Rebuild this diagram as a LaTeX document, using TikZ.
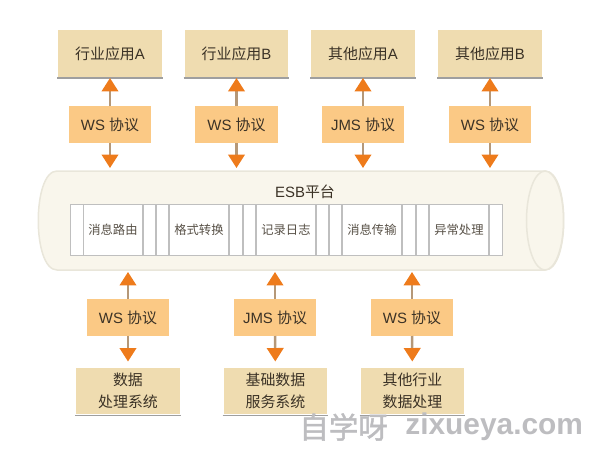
\documentclass[tikz,border=0pt]{standalone}
\usepackage{fontspec}
\setmainfont{Liberation Sans}
\newfontfamily\cjk{Noto Sans CJK SC}
\newfontfamily\cjkbold[FakeBold=1.5]{Noto Sans CJK SC}
\usepackage[HTML]{xcolor}
\usetikzlibrary{positioning, arrows.meta}

\definecolor{appfill}{HTML}{EFDCB0}
\definecolor{wsfill}{HTML}{FBC985}
\definecolor{tipfill}{HTML}{EE7B1B}
\definecolor{shaftcol}{HTML}{B59878}
\definecolor{busfill}{HTML}{F9F6EC}
\definecolor{busline}{HTML}{E9E6DA}
\definecolor{inktext}{HTML}{3B3226}
\definecolor{marktext}{HTML}{BDBDC0}

\tikzset{
  appbox/.style={draw=white, line width=0.04cm, fill=appfill, text=inktext, minimum width=2.12cm, minimum height=0.98cm,
    inner sep=0pt, outer sep=0pt, align=center, font=\fontsize{8.5}{12.5}\selectfont},
  wsbox/.style={fill=wsfill, text=inktext, minimum width=1.66cm, minimum height=0.74cm, inner sep=0pt, outer sep=0pt,
    font=\fontsize{8.5}{11}\selectfont},
  cellbox/.style={draw=gray!50, line width=0.02cm, fill=white, minimum width=1.2cm, minimum height=1.04cm, inner sep=0pt,
    text=inktext!85, font=\fontsize{7}{9}\selectfont},
  gapbox/.style={cellbox, minimum width=0.26cm},
  flowline/.style={draw=shaftcol, line width=0.05cm, -{Triangle[color=tipfill, width=0.33cm, length=0.27cm, sep=0pt]}},
  shadeline/.style={draw=gray!75, line width=0.035cm},
  busbody/.style={draw=busline, line width=0.03cm, fill=busfill},
}

\begin{document}
\begin{tikzpicture}[x=0.02cm, y=-0.02cm]
\useasboundingbox (0,0) rectangle (600,454);

% bus
\node[minimum width=10.5cm, minimum height=1.98cm, inner sep=0pt, outer sep=0pt] (esb) at (300.5,220.5) {};
\draw[busbody] (57,171) -- (545,171) .. controls (570,171) and (570,270) .. (545,270) -- (57,270)
  .. controls (32,270) and (32,171) .. (57,171) -- cycle;
\draw[busbody] (545,220.5) ellipse (18.5 and 49.5);
\node[text=inktext, font=\fontsize{8.5}{11}\selectfont] (esbtitle) at (305,192) {ESB{\cjk 平台}};

% table in the bus
\foreach \n/\x in {g1/77, g2/149.5, g3/162.5, g4/236, g5/249.5, g6/322.5, g7/335.5, g8/409, g9/422.5, g10/496}
  \node[gapbox] (\n) at (\x,230) {};
\node[cellbox] (route)  at (113,230) {\cjk 消息路由};
\node[cellbox] (format) at (199,230) {\cjk 格式转换};
\node[cellbox] (log)    at (286,230) {\cjk 记录日志};
\node[cellbox] (trans)  at (372,230) {\cjk 消息传输};
\node[cellbox] (error)  at (459,230) {\cjk 异常处理};

% top row
\node[appbox] (appA) at (110,53.5)  {{\cjk 行业应用}A};
\node[appbox] (appB) at (236.5,53.5) {{\cjk 行业应用}B};
\node[appbox] (othA) at (363,53.5)  {{\cjk 其他应用}A};
\node[appbox] (othB) at (490,53.5)  {{\cjk 其他应用}B};

\node[wsbox] (wsA) at (110,124.5) {WS {\cjk 协议}};
\node[wsbox] (wsB) at (236.5,124.5) {WS {\cjk 协议}};
\node[wsbox] (wsC) at (363,124.5) {JMS {\cjk 协议}};
\node[wsbox] (wsD) at (490,124.5) {WS {\cjk 协议}};

% bottom row
\node[wsbox] (wsE) at (128,317.5) {WS {\cjk 协议}};
\node[wsbox] (wsF) at (275,317.5) {JMS {\cjk 协议}};
\node[wsbox] (wsG) at (412,317.5) {WS {\cjk 协议}};

\node[appbox] (sysA) at (128,391) {\cjk 数据\\\cjk 处理系统};
\node[appbox] (sysB) at (275.5,391) {\cjk 基础数据\\\cjk 服务系统};
\node[appbox] (sysC) at (412.5,391) {\cjk 其他行业\\\cjk 数据处理};

% shadow under the boxes
\foreach \n in {appA, appB, othA, othB, sysA, sysB, sysC}
  \draw[shadeline] (\n.south west) -- (\n.south east);

% arrows
\foreach \w/\a in {wsA/appA, wsB/appB, wsC/othA, wsD/othB}
  \draw[flowline] (\w) -- (\a);
\foreach \w/\a in {wsE/sysA, wsF/sysB, wsG/sysC}
  \draw[flowline, shorten >=0.1cm] (\w) -- (\a);
\foreach \w in {wsA, wsB, wsC, wsD}
  \draw[flowline, shorten >=0.06cm] (\w) -- (\w |- esb.north);
\foreach \w in {wsE, wsF, wsG}
  \draw[flowline, shorten >=0.04cm] (\w) -- (\w |- esb.south);

% watermark
\node[text=marktext, anchor=west, inner sep=0pt, font=\fontsize{16.8}{20}\selectfont] (markcn) at (299,427) {\cjkbold 自学呀};
\node[text=marktext, anchor=west, inner sep=0pt, font=\fontsize{17}{20}\bfseries\selectfont] (marken) at (405,427) {zixueya.com};
\end{tikzpicture}
\end{document}
